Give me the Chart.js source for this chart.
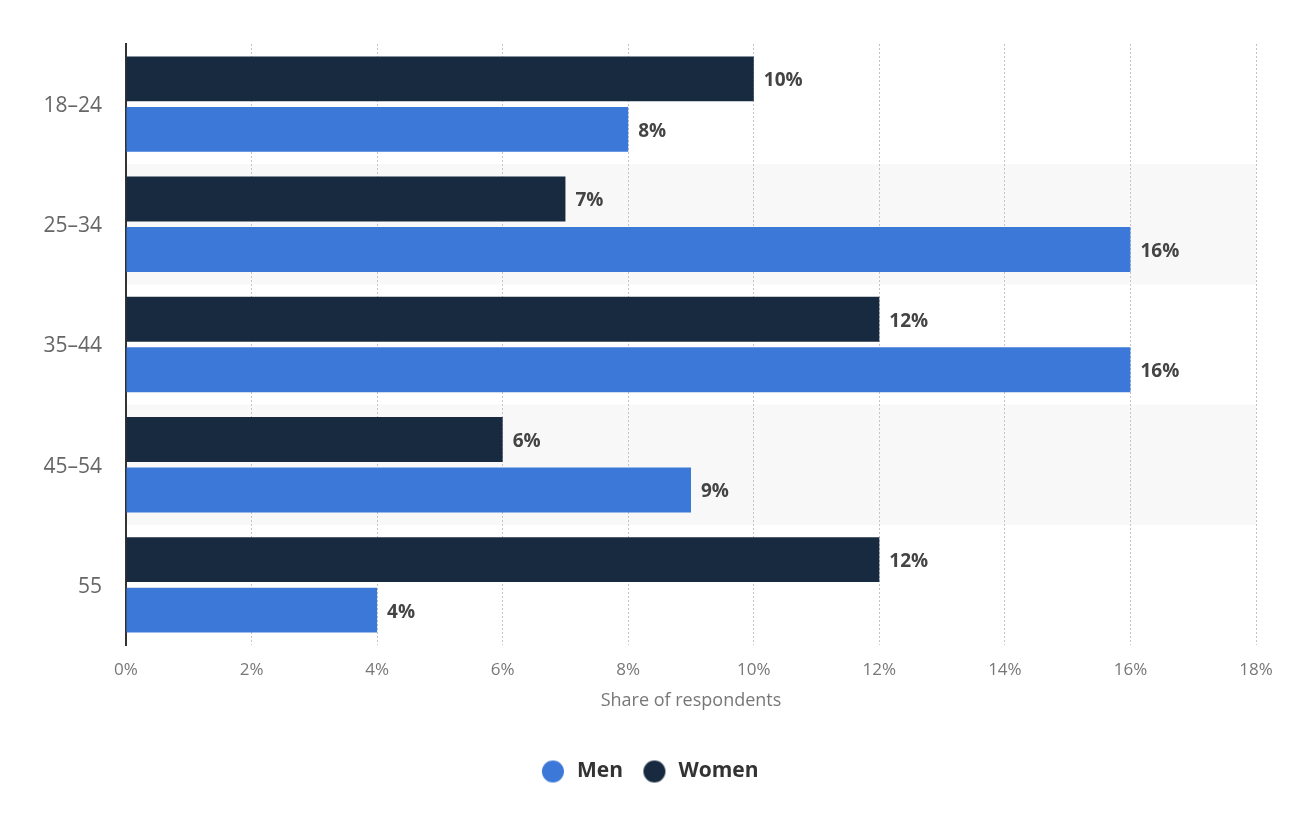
<!DOCTYPE html>
<html>
<head>
<meta charset="utf-8">
<script src="https://cdn.jsdelivr.net/npm/chart.js@4/dist/chart.umd.min.js"></script>
<style>
  html, body { margin: 0; padding: 0; background: #fff; }
  #wrap { width: 1290px; height: 834px; }
</style>
</head>
<body>
<div id="wrap"><canvas id="ageChart" width="1290" height="834"></canvas></div>
<script>
// age groups and shares (%)
const ageGroups = ['18–24', '25–34', '35–44', '45–54', '55'];
const women = [10, 7, 12, 6, 12];
const men = [8, 16, 16, 9, 4];
const xTicks = [0, 2, 4, 6, 8, 10, 12, 14, 16, 18];

const FONT = "'Open Sans', 'Noto Sans', sans-serif";
const COLORS = { Women: '#172a3f', Men: '#3c78d8' };

// legend dot as small canvas, circle shifted left so the text sits further away
function legendDot(color) {
    const c = document.createElement('canvas');
    c.width = 30;
    c.height = 24;
    const g = c.getContext('2d');
    g.fillStyle = color;
    g.beginPath();
    g.arc(12, 12, 11, 0, Math.PI * 2);
    g.fill();
    return c;
}

// light band behind every second category (drawn before the grid)
const bandPlugin = {
    id: 'bands',
    afterLayout(chart) {
        // legend sits a bit right of the canvas centre in the original
        chart.legend.left += 48;
    },
    beforeDraw(chart) {
        const { ctx, chartArea, scales } = chart;
        const y = scales.y;
        const half = (y.getPixelForValue(1) - y.getPixelForValue(0)) / 2;
        ctx.save();
        ctx.fillStyle = '#f8f8f8';
        ageGroups.forEach((g, i) => {
            if (i % 2 === 1) {
                const c = y.getPixelForValue(i);
                ctx.fillRect(chartArea.left, c - half, chartArea.right - chartArea.left, half * 2);
            }
        });
        ctx.restore();
    }
};

// value labels at bar ends
const labelPlugin = {
    id: 'valueLabels',
    afterDatasetsDraw(chart) {
        const ctx = chart.ctx;
        ctx.save();
        ctx.font = 'bold 19px ' + FONT;
        ctx.fillStyle = '#444';
        ctx.textBaseline = 'middle';
        ctx.textAlign = 'left';
        chart.data.datasets.forEach((ds, di) => {
            chart.getDatasetMeta(di).data.forEach((bar, i) => {
                ctx.fillText(ds.data[i] + '%', bar.x + 10, bar.y + 2);
            });
        });
        ctx.restore();
    }
};

new Chart(document.getElementById('ageChart'), {
    type: 'bar',
    data: {
        labels: ageGroups,
        datasets: [
            { label: 'Women', data: women, backgroundColor: COLORS.Women, pointStyle: legendDot(COLORS.Women) },
            { label: 'Men', data: men, backgroundColor: COLORS.Men, pointStyle: legendDot(COLORS.Men) }
        ]
    },
    options: {
        indexAxis: 'y',
        responsive: false,
        animation: false,
        devicePixelRatio: 1,
        categoryPercentage: 0.84,
        barPercentage: 0.89,
        layout: { padding: { top: 44, right: 34, left: 0, bottom: 42 } },
        plugins: {
            tooltip: { enabled: false },
            legend: {
                position: 'bottom',
                labels: {
                    usePointStyle: true,
                    boxWidth: 21,
                    boxHeight: 16,
                    padding: 24,
                    color: '#333',
                    font: { family: FONT, size: 21, weight: 'bold' },
                    sort: (a, b) => b.datasetIndex - a.datasetIndex
                }
            }
        },
        scales: {
            x: {
                min: 0,
                max: 18,
                afterBuildTicks: axis => { axis.ticks = xTicks.map(v => ({ value: v })); },
                afterFit: axis => { axis.height = 92; },
                border: { display: false, dash: [2, 2] },
                grid: {
                    color: '#c4c4c4',
                    lineWidth: 1,
                    drawTicks: false
                },
                ticks: {
                    padding: 15,
                    color: '#777',
                    font: { family: FONT, size: 17 },
                    callback: v => v + '%'
                },
                title: {
                    display: true,
                    text: 'Share of respondents',
                    color: '#777',
                    padding: { top: 4, bottom: 25 },
                    font: { family: FONT, size: 18 }
                }
            },
            y: {
                afterFit: axis => { axis.width = 126; },
                border: { display: true, color: '#333', width: 2 },
                grid: { display: false, drawTicks: false },
                ticks: {
                    padding: 24,
                    labelOffset: 2,
                    color: '#666',
                    font: { family: FONT, size: 21 }
                }
            }
        }
    },
    plugins: [bandPlugin, labelPlugin]
});
</script>
</body>
</html>
